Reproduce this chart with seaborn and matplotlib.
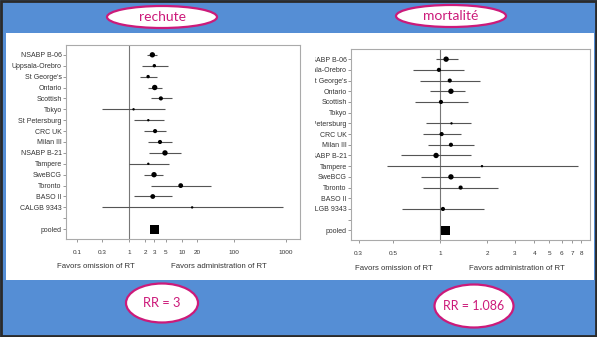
import numpy as np
import pandas as pd
import matplotlib
matplotlib.use("Agg")
import matplotlib.pyplot as plt
import matplotlib.ticker as mticker
from matplotlib.patches import Ellipse, Rectangle
import seaborn as sns

sns.set_style("white")
plt.rcParams['font.family'] = ['Liberation Sans', 'DejaVu Sans']

# essais (meme ordre dans les deux panneaux, ligne vide avant "pooled")
studies = ["NSABP B-06", "Uppsala-Orebro", "St George's", "Ontario", "Scottish", "Tokyo",
           "St Petersburg", "CRC UK", "Milan III", "NSABP B-21", "Tampere", "SweBCG",
           "Toronto", "BASO II", "CALGB 9343", "", "pooled"]

# rechute : RR, IC bas, IC haut, poids
rel_rr = [2.75, 3.0, 2.28, 3.05, 4.0, 1.2, 2.3, 3.1, 3.85, 4.8, 2.3, 2.96, 9.6, 2.8, 15.9]
rel_lo = [2.16, 1.74, 1.57, 2.3, 2.56, 0.305, 1.2, 1.92, 2.3, 2.4, 0.97, 1.92, 2.56, 1.2, 0.305]
rel_hi = [3.33, 5.37, 3.33, 4.2, 6.6, 4.9, 4.5, 5.1, 6.4, 9.6, 5.7, 4.4, 36.8, 6.4, 875]
rel_w = [5, 2, 2, 5, 3, 1, 1, 3, 3, 5, 1, 5, 4, 4, 1]
rel_pooled = 3.0

# mortalite (Tokyo et BASO II sans donnees)
mort_rr = [1.09, 0.98, 1.15, 1.17, 1.01, np.nan, 1.18, 1.02, 1.17, 0.94, 1.85, 1.17, 1.35, np.nan, 1.04]
mort_lo = [0.94, 0.665, 0.745, 0.863, 0.686, np.nan, 0.813, 0.775, 0.834, 0.56, 0.455, 0.755, 0.771, np.nan, 0.569]
mort_hi = [1.29, 1.41, 1.79, 1.45, 1.5, np.nan, 1.58, 1.36, 1.64, 1.58, 7.6, 1.79, 2.34, np.nan, 1.9]
mort_w = [5, 3, 3, 5, 3, 1, 1, 3, 3, 5, 1, 5, 3, 1, 3]
mort_pooled = 1.086

rel_ticks = [0.1, 0.3, 1, 2, 3, 5, 10, 20, 100, 1000]
mort_ticks = [0.3, 0.5, 1, 2, 3, 4, 5, 6, 7, 8]

BLUE = '#558ED5'
PINK = '#CC1A7A'

W, H = 597, 337
fig = plt.figure(figsize=(W / 100, H / 100), dpi=100, facecolor=BLUE)


def px(x0, y0, x1, y1):
    # boite en pixels (haut-gauche) -> fraction de figure
    return [x0 / W, 1 - y1 / H, (x1 - x0) / W, (y1 - y0) / H]


fig.patches.append(Rectangle((6 / W, 1 - 280 / H), 588 / W, 247 / H, transform=fig.transFigure,
                             facecolor='white', edgecolor='none', zorder=-1))
fig.patches.append(Rectangle((0.002, 0.003), 0.996, 0.994, transform=fig.transFigure,
                             facecolor='none', edgecolor='#2a2a2a', lw=2, zorder=10))


def forest(ax, rr, lo, hi, w, pooled, xlim, ticks, ylim, minor):
    n = len(rr)
    pos = np.arange(len(studies))
    df = pd.DataFrame({'rr': rr, 'lo': lo, 'hi': hi, 'w': w, 'pos': pos[:n]})
    ax.axvline(1, color='#777777', lw=0.8, zorder=1)
    d = df.dropna()
    ax.hlines(d['pos'], d['lo'], d['hi'], color='#555555', lw=0.8, zorder=2)
    sns.scatterplot(data=d, x='rr', y='pos', size='w', sizes=(3, 15), color='black',
                    edgecolor='none', legend=False, ax=ax, zorder=3)
    sns.scatterplot(x=[pooled], y=[pos[-1]], marker='s', s=40, color='black',
                    edgecolor='none', ax=ax, zorder=3)
    ax.set_xscale('log')
    ax.set_xlim(*xlim)
    ax.set_ylim(*ylim)
    ax.set_xticks(ticks)
    ax.set_xticklabels([f'{t:g}' for t in ticks])
    if minor:
        ax.xaxis.set_minor_locator(mticker.LogLocator(base=10, subs=np.arange(2, 10), numticks=20))
    else:
        ax.xaxis.set_minor_locator(mticker.NullLocator())
    ax.xaxis.set_minor_formatter(mticker.NullFormatter())
    ax.set_yticks(pos)
    ax.set_yticklabels(studies)
    ax.set_xlabel('')
    ax.set_ylabel('')
    ax.tick_params(axis='x', which='both', direction='out', length=2, width=0.6, colors='#888888',
                   labelcolor='#333333', labelsize=4.6, pad=6)
    ax.tick_params(axis='y', direction='out', length=2, width=0.6, colors='#888888',
                   labelcolor='#333333', labelsize=5, pad=1)
    ax.tick_params(left=True, bottom=True)
    for s in ax.spines.values():
        s.set_color('#aaaaaa')
        s.set_linewidth(0.8)
    ax.set_facecolor('white')


ax1 = fig.add_axes(px(66, 45, 300, 239))
forest(ax1, rel_rr, rel_lo, rel_hi, rel_w, rel_pooled, (0.061, 1850), rel_ticks, (16.9, -0.9), True)

ax2 = fig.add_axes(px(351, 49, 590, 240))
forest(ax2, mort_rr, mort_lo, mort_hi, mort_w, mort_pooled, (0.268, 9.1), mort_ticks, (16.9, -0.95), False)

# les libelles du second panneau sont coupes au bord de l'image
clip = Rectangle((315 / W, 0), 1, 1, transform=fig.transFigure, facecolor='none', edgecolor='none')
fig.patches.append(clip)
for t in ax2.get_yticklabels():
    t.set_clip_on(True)
    t.set_clip_path(clip)

lab = dict(fontsize=5.6, color='#333333', ha='center', va='center')
fig.text(96 / W, 1 - 267 / H, 'Favors omission of RT', **lab)
fig.text(219 / W, 1 - 267 / H, 'Favors administration of RT', **lab)
fig.text(394 / W, 1 - 269 / H, 'Favors omission of RT', **lab)
fig.text(517 / W, 1 - 269 / H, 'Favors administration of RT', **lab)


def bubble(cx, cy, w, h, txt, size):
    fig.patches.append(Ellipse((cx / W, 1 - cy / H), w / W, h / H, transform=fig.transFigure,
                               facecolor='white', edgecolor=PINK, lw=1.6, zorder=5))
    fig.text(cx / W, 1 - cy / H, txt, ha='center', va='center', color=PINK, fontsize=size,
             family=['Lato', 'DejaVu Sans'], zorder=6)


bubble(162, 17, 110, 22, 'rechute', 10)
bubble(451, 16, 110, 22, 'mortalité', 10)
bubble(162, 303, 72, 39, 'RR = 3', 9.3)
bubble(474, 306, 79, 43, 'RR = 1.086', 9.0)

fig.savefig('out.png', dpi=100, facecolor=BLUE)
